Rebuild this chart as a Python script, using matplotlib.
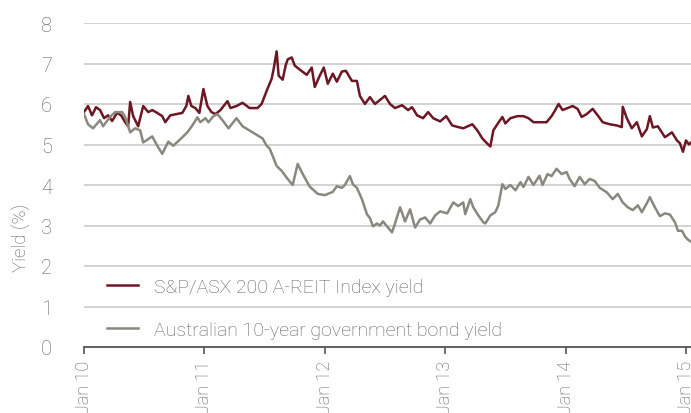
import numpy as np
import matplotlib
matplotlib.use("Agg")
import matplotlib.pyplot as plt

# months since Jan 2010 and yields (%)
reit_months = [0.0, 0.4, 0.8, 1.2, 1.6, 2.0, 2.4, 2.8, 3.3, 3.7, 4.1, 4.4, 4.6, 4.9, 5.4, 5.9,
               6.4, 6.8, 7.3, 7.8, 8.1, 8.6, 9.2, 9.8, 10.2, 10.4, 10.7, 11.1, 11.5, 11.9, 12.3,
               12.7, 13.1, 13.6, 14.3, 14.6, 15.2, 15.8, 16.5, 17.3, 17.7, 18.2, 18.7, 18.9, 19.2,
               19.4, 19.8, 20.1, 20.3, 20.7, 21.0, 21.5, 22.2, 22.7, 23.0, 23.5, 23.9, 24.3, 24.8,
               25.2, 25.7, 26.1, 26.7, 27.2, 27.5, 28.0, 28.5, 29.0, 29.5, 30.0, 30.5, 31.0, 31.7,
               32.3, 32.7, 33.2, 33.8, 34.3, 34.8, 35.5, 36.1, 36.7, 37.3, 37.8, 38.7, 39.2, 39.7,
               40.2, 40.5, 40.8, 41.2, 41.7, 42.0, 42.5, 43.2, 43.8, 44.3, 44.8, 45.4, 46.1, 46.6,
               46.9, 47.3, 47.7, 48.2, 48.7, 49.2, 49.6, 50.1, 50.7, 51.2, 51.7, 52.4, 53.1, 53.6,
               53.7, 54.1, 54.6, 55.1, 55.6, 56.1, 56.4, 56.7, 57.2, 57.9, 58.6, 59.1, 59.4, 59.7,
               60.0, 60.3, 60.5]
reit_yield = [5.80, 5.95, 5.72, 5.92, 5.85, 5.65, 5.72, 5.58, 5.78, 5.72, 5.55, 5.45, 6.05, 5.70,
              5.45, 5.95, 5.80, 5.85, 5.78, 5.70, 5.55, 5.72, 5.75, 5.78, 5.95, 6.20, 5.95, 5.90,
              5.78, 6.37, 5.95, 5.80, 5.75, 5.85, 6.07, 5.90, 5.95, 6.03, 5.90, 5.90, 6.00, 6.32,
              6.62, 6.86, 7.30, 6.70, 6.60, 6.95, 7.10, 7.15, 6.95, 6.85, 6.72, 6.90, 6.42, 6.70,
              6.90, 6.50, 6.75, 6.55, 6.80, 6.82, 6.57, 6.57, 6.20, 6.00, 6.17, 6.00, 6.10, 6.20,
              6.00, 5.90, 5.97, 5.85, 5.92, 5.72, 5.65, 5.80, 5.65, 5.57, 5.70, 5.47, 5.43, 5.40,
              5.50, 5.35, 5.15, 5.02, 4.95, 5.35, 5.50, 5.68, 5.52, 5.65, 5.70, 5.70, 5.65, 5.55,
              5.55, 5.55, 5.70, 5.82, 6.00, 5.85, 5.90, 5.95, 5.88, 5.68, 5.75, 5.88, 5.72, 5.55,
              5.50, 5.47, 5.43, 5.93, 5.65, 5.40, 5.55, 5.20, 5.38, 5.70, 5.42, 5.45, 5.18, 5.30,
              5.10, 5.03, 4.82, 5.10, 5.00, 5.05]

bond_months = [0.0, 0.4, 0.9, 1.6, 1.9, 2.6, 3.1, 3.8, 4.1, 4.6, 5.1, 5.6, 5.9, 6.8, 7.3, 7.8,
               8.4, 8.9, 9.6, 10.3, 10.8, 11.3, 11.6, 12.1, 12.4, 12.9, 13.3, 13.8, 14.4, 15.2,
               15.8, 16.8, 17.8, 18.2, 18.5, 18.8, 19.2, 19.7, 20.2, 20.8, 21.3, 21.8, 22.5, 23.3,
               24.0, 24.8, 25.2, 25.7, 26.0, 26.5, 26.8, 27.2, 27.7, 28.2, 28.5, 28.8, 29.2, 29.5,
               29.8, 30.3, 30.7, 31.0, 31.5, 32.0, 32.5, 33.0, 33.5, 34.0, 34.5, 35.0, 35.5, 36.2,
               36.8, 37.3, 37.8, 38.0, 38.5, 38.8, 39.3, 39.8, 40.0, 40.5, 41.0, 41.3, 41.7, 42.0,
               42.5, 43.0, 43.5, 43.8, 44.3, 44.8, 45.4, 45.7, 46.2, 46.6, 47.1, 47.6, 48.1, 48.4,
               48.9, 49.4, 49.9, 50.4, 50.9, 51.4, 52.1, 52.7, 53.2, 53.7, 54.2, 54.7, 55.2, 55.6,
               56.1, 56.4, 56.9, 57.4, 57.9, 58.4, 58.9, 59.2, 59.6, 59.9, 60.2, 60.5]
bond_yield = [5.75, 5.50, 5.40, 5.60, 5.45, 5.68, 5.80, 5.80, 5.68, 5.30, 5.40, 5.35, 5.05, 5.20,
              4.97, 4.77, 5.07, 4.97, 5.13, 5.30, 5.47, 5.67, 5.55, 5.65, 5.55, 5.70, 5.75, 5.60,
              5.40, 5.65, 5.45, 5.30, 5.15, 4.97, 4.90, 4.72, 4.47, 4.35, 4.18, 4.00, 4.52, 4.27,
              3.96, 3.78, 3.75, 3.83, 3.97, 3.93, 4.00, 4.22, 4.02, 3.93, 3.65, 3.28, 3.18, 2.98,
              3.05, 3.00, 3.10, 2.95, 2.83, 3.05, 3.45, 3.10, 3.40, 2.95, 3.15, 3.20, 3.05, 3.25,
              3.35, 3.30, 3.57, 3.48, 3.57, 3.28, 3.65, 3.45, 3.25, 3.08, 3.05, 3.25, 3.33, 3.50,
              4.02, 3.90, 4.00, 3.87, 4.07, 3.95, 4.20, 4.00, 4.23, 4.00, 4.27, 4.22, 4.40, 4.27,
              4.32, 4.15, 3.97, 4.20, 4.02, 4.15, 4.10, 3.93, 3.82, 3.65, 3.78, 3.57, 3.45, 3.38,
              3.50, 3.33, 3.55, 3.70, 3.45, 3.23, 3.30, 3.27, 3.08, 2.87, 2.87, 2.73, 2.65, 2.60]

tick_months = [0, 12, 24, 36, 48, 60]
tick_labels = ["Jan 10", "Jan 11", "Jan 12", "Jan 13", "Jan 14", "Jan 15"]
label_reit = "S&P/ASX 200 A-REIT Index yield"
label_bond = "Australian 10-year government bond yield"

color_reit = "#6d1624"
color_bond = "#8a887e"
text_color = "#606060"

plt.rcParams["font.family"] = ["Roboto", "DejaVu Sans"]
plt.rcParams["font.weight"] = "light"
plt.rcParams["axes.labelweight"] = "light"

fig = plt.figure(figsize=(6.91, 4.14), dpi=100)
ax = fig.add_axes([84 / 691, 66 / 414, 607 / 691, 324 / 414])

ax.plot(reit_months, reit_yield, color=color_reit, linewidth=1.8, label=label_reit, zorder=3)
ax.plot(bond_months, bond_yield, color=color_bond, linewidth=1.8, label=label_bond, zorder=3)

ax.set_xlim(0, 60.5)
ax.set_ylim(0, 8)
ax.set_yticks(range(0, 9))
ax.grid(axis="y", color="#cfcfcf", linewidth=1.3)
ax.set_axisbelow(True)
for side in ["top", "right", "left"]:
    ax.spines[side].set_visible(False)
ax.spines["bottom"].set_color("#555555")
ax.spines["bottom"].set_linewidth(1.3)

ax.set_xticks(tick_months)
ax.set_xticklabels(tick_labels, rotation=90)
ax.tick_params(axis="x", length=5, width=1.2, color="#555555", labelsize=13,
               labelcolor=text_color, pad=4)
ax.tick_params(axis="y", length=0, labelsize=14.5, labelcolor=text_color, pad=23)

ax.set_ylabel("Yield (%)", fontsize=13.5, color=text_color, fontweight="light")
ax.yaxis.set_label_coords(-0.088, 0.34)

ax.legend(loc="lower left", bbox_to_anchor=(0.022, -0.005), frameon=False, fontsize=14,
          handlelength=1.6, handletextpad=0.8, labelspacing=1.3, labelcolor=text_color,
          borderaxespad=0.1)

fig.savefig("out.png", dpi=100)
